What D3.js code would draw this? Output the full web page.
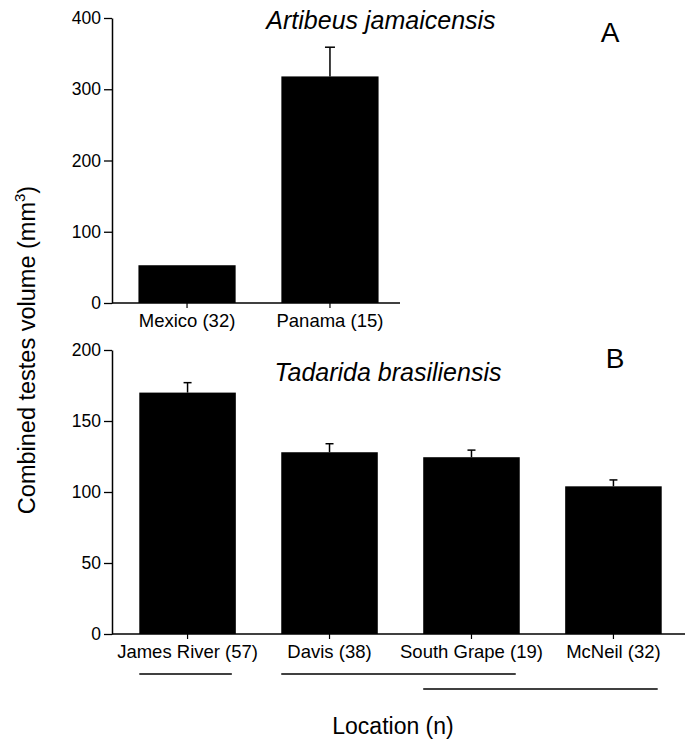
<!DOCTYPE html>
<html>
<head>
<meta charset="utf-8">
<script src="https://cdn.jsdelivr.net/npm/d3@7"></script>
<style>
  body { margin: 0; background: #fff; }
  svg { font-family: "Liberation Sans", Arial, sans-serif; }
</style>
</head>
<body>
<div id="chart"></div>
<script>
// data
const sitesA = ["Mexico (32)", "Panama (15)"];
const meansA = [53, 318];
const errsA = [0, 41];
const ticksA = [0, 100, 200, 300, 400];

const sitesB = ["James River (57)", "Davis (38)", "South Grape (19)", "McNeil (32)"];
const meansB = [170, 128, 124.5, 104];
const errsB = [7, 6, 5, 4.5];
const ticksB = [0, 50, 100, 150, 200];

// non-significant groupings drawn under the labels (first, last site)
const groupStart = [0, 1, 2];
const groupEnd = [0, 2, 3];
const groupRow = [0, 0, 1];

const width = 685, height = 741;
const axisX = 112;
const font = "Liberation Sans, Arial, sans-serif";

const svg = d3.select("#chart").append("svg")
    .attr("width", width)
    .attr("height", height);

function drawPanel(cats, means, errs, ticks, yTop, yBottom, xRange, xEnd, capW) {
    const y = d3.scaleLinear().domain([0, ticks[ticks.length - 1]]).range([yBottom, yTop]);
    const x = d3.scaleBand().domain(cats).range(xRange).paddingInner(0.32).paddingOuter(0.15);

    const g = svg.append("g");

    // bars
    g.selectAll("rect.bar")
        .data(cats)
        .enter().append("rect")
        .attr("class", "bar")
        .attr("x", d => x(d))
        .attr("width", x.bandwidth())
        .attr("y", (d, i) => y(means[i]))
        .attr("height", (d, i) => y(0) - y(means[i]))
        .attr("fill", "#000");

    // error bars (upper half only)
    const eb = g.selectAll("g.err")
        .data(cats.filter((d, i) => errs[i] > 0))
        .enter().append("g");
    const top = d => y(means[cats.indexOf(d)] + errs[cats.indexOf(d)]);
    const mid = d => x(d) + x.bandwidth() / 2;
    eb.append("line")
        .attr("x1", mid).attr("x2", mid)
        .attr("y1", d => y(means[cats.indexOf(d)]))
        .attr("y2", top)
        .attr("stroke", "#000").attr("stroke-width", 1.5);
    eb.append("line")
        .attr("x1", d => mid(d) - capW / 2)
        .attr("x2", d => mid(d) + capW / 2)
        .attr("y1", top).attr("y2", top)
        .attr("stroke", "#000").attr("stroke-width", 1.5);

    // y axis
    const ya = g.append("g")
        .attr("transform", `translate(${axisX},0)`)
        .call(d3.axisLeft(y).tickValues(ticks).tickSize(8).tickPadding(3).tickSizeOuter(0));
    ya.select(".domain").attr("stroke-width", 1.5);
    ya.selectAll(".tick line").attr("stroke-width", 1.3);
    ya.selectAll("text").attr("font-size", 17.5).attr("font-family", font).attr("fill", "#000");

    // x axis
    const xa = g.append("g")
        .attr("transform", `translate(0,${yBottom})`)
        .call(d3.axisBottom(x).tickSize(5).tickPadding(6).tickSizeOuter(0));
    xa.select(".domain").remove();
    xa.selectAll(".tick line").attr("stroke-width", 1.2);
    xa.selectAll("text").attr("font-size", 18.5).attr("font-family", font).attr("fill", "#000");
    g.append("line")
        .attr("x1", axisX).attr("x2", xEnd)
        .attr("y1", yBottom).attr("y2", yBottom)
        .attr("stroke", "#000").attr("stroke-width", 1.5);

    return x;
}

drawPanel(sitesA, meansA, errsA, ticksA, 18, 303, [117, 400], 400, 10);
const xB = drawPanel(sitesB, meansB, errsB, ticksB, 350, 634, [118, 683], 685, 8);

// grouping lines under panel B
svg.selectAll("line.group")
    .data(groupStart)
    .enter().append("line")
    .attr("class", "group")
    .attr("x1", d => xB(sitesB[d]))
    .attr("x2", (d, i) => xB(sitesB[groupEnd[i]]) + xB.bandwidth() - 4)
    .attr("y1", (d, i) => 674 + groupRow[i] * 15)
    .attr("y2", (d, i) => 674 + groupRow[i] * 15)
    .attr("stroke", "#000").attr("stroke-width", 1.5);

// titles and panel letters
svg.append("text")
    .attr("x", 381).attr("y", 29)
    .attr("text-anchor", "middle")
    .attr("font-size", 25).attr("font-style", "italic")
    .text("Artibeus jamaicensis");
svg.append("text")
    .attr("x", 388).attr("y", 381)
    .attr("text-anchor", "middle")
    .attr("font-size", 25).attr("font-style", "italic")
    .text("Tadarida brasiliensis");
svg.append("text")
    .attr("x", 610).attr("y", 42)
    .attr("text-anchor", "middle")
    .attr("font-size", 28)
    .text("A");
svg.append("text")
    .attr("x", 615).attr("y", 368)
    .attr("text-anchor", "middle")
    .attr("font-size", 28)
    .text("B");

// axis titles
const yl = svg.append("text")
    .attr("transform", "translate(35,350) rotate(-90)")
    .attr("text-anchor", "middle")
    .attr("font-size", 23.5);
yl.append("tspan").text("Combined testes volume (mm");
yl.append("tspan").attr("font-size", 15).attr("dy", -10).text("3");
yl.append("tspan").attr("dy", 10).text(")");

svg.append("text")
    .attr("x", 393).attr("y", 734)
    .attr("text-anchor", "middle")
    .attr("font-size", 23)
    .text("Location (n)");
</script>
</body>
</html>
